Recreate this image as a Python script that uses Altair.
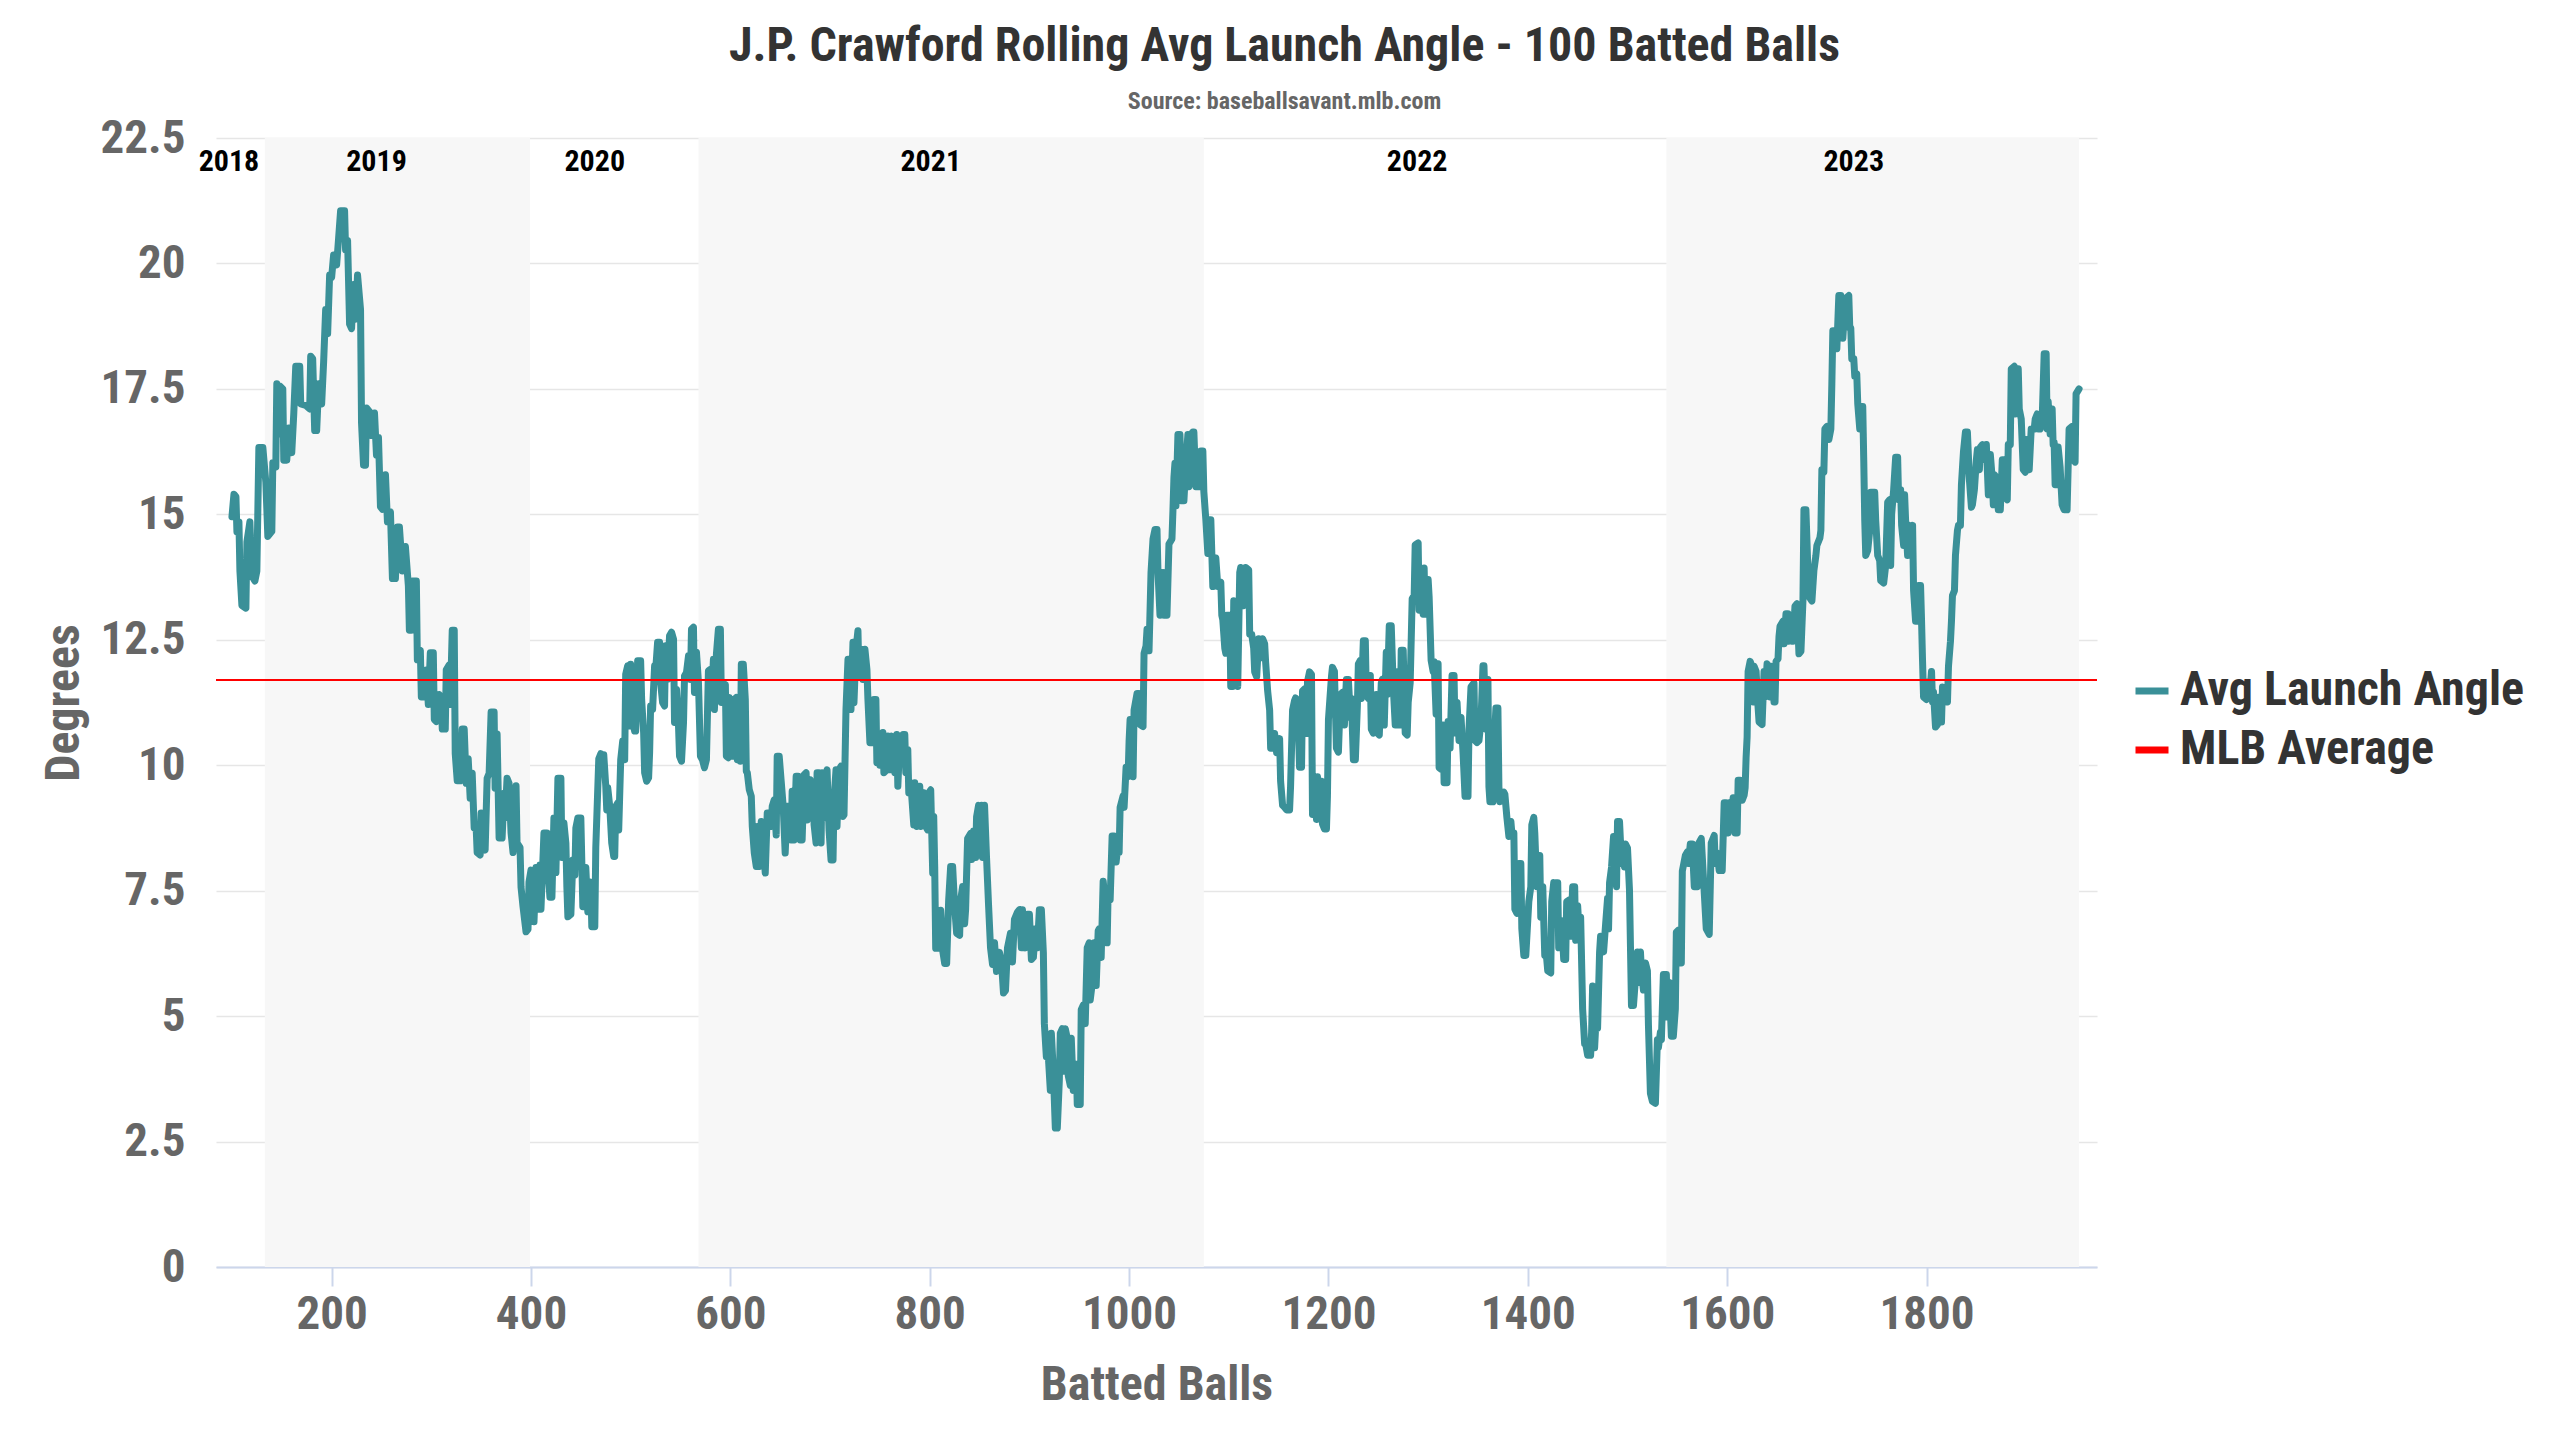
import altair as alt
import pandas as pd

# Batted ball number (x) and 100-ball rolling average launch angle (y)
batted_balls = [
    100, 102, 104, 105, 107, 108, 110, 114, 115, 118,
    120, 123, 125, 127, 131, 134, 136, 140, 141, 144,
    145, 147, 148, 151, 152, 155, 157, 160, 162, 164,
    168, 169, 174, 178, 179, 181, 183, 185, 187, 190,
    192, 194, 196, 198, 200, 202, 205, 207, 209, 213,
    214, 216, 218, 220, 222, 224, 226, 229, 230, 232,
    234, 235, 239, 240, 243, 245, 247, 249, 251, 254,
    256, 259, 261, 264, 266, 268, 271, 274, 277, 278,
    280, 281, 285, 286, 289, 290, 294, 295, 297, 299,
    302, 303, 305, 308, 310, 311, 314, 315, 318, 319,
    321, 323, 324, 326, 329, 331, 333, 335, 337, 339,
    341, 343, 345, 346, 349, 350, 353, 354, 356, 358,
    360, 363, 364, 366, 368, 371, 373, 374, 376, 378,
    380, 382, 385, 386, 389, 390, 392, 395, 397, 398,
    400, 403, 405, 407, 409, 410, 413, 416, 417, 419,
    421, 423, 425, 427, 430, 431, 433, 435, 436, 437,
    440, 442, 444, 445, 447, 450, 452, 454, 455, 457,
    460, 461, 464, 465, 468, 470,
    471, 473, 475, 476, 477, 479, 481, 483, 484, 485,
    487, 488, 490, 492, 494, 495, 497, 499, 500, 502,
    504, 505, 507, 510, 511, 513, 514, 516, 518, 519,
    520, 522, 524, 525, 527, 529, 530, 532, 534, 535,
    537, 539, 541, 543, 544, 546, 548, 549, 551, 553,
    554, 556, 558, 560, 561, 563, 564, 566, 568, 570,
    572, 574, 576, 578, 580, 581, 583, 584, 586, 588,
    590, 591, 593, 595, 596, 598, 599, 601, 602, 604,
    606, 607, 609, 610, 611, 613, 615, 616, 617, 619,
    621, 622, 624, 626, 627, 629, 631, 633, 635, 637,
    639, 641, 642, 644, 646, 647, 649, 651, 653, 655,
    657, 659, 661, 662, 664, 666, 668, 670, 672, 674,
    676, 677, 680, 681, 683, 684, 686, 687, 689, 691,
    692, 694, 696, 697, 699, 701, 703, 704, 706, 707,
    709, 711, 713, 714, 716, 718, 719, 721, 723, 724,
    726, 728, 729, 731, 733, 735, 737, 738, 740, 743,
    744, 746, 747, 748, 750, 753, 754, 757, 758, 760,
    762, 764, 765, 767, 768, 770, 773, 775, 776, 778,
    779, 781, 784, 785, 787, 790, 791, 794, 796, 798,
    800, 801, 803, 804, 805, 806, 809, 811, 813, 815,
    817, 819, 821, 823, 825, 827, 830, 831, 833,
    835, 836, 838, 841, 842, 844, 846, 847, 849, 851,
    852, 853, 855, 857, 858, 859, 861, 863, 865, 867,
    870, 872, 874, 876, 878, 881, 883, 885, 888, 890,
    892, 893, 896, 898, 900, 902, 904, 906, 908, 910,
    912, 914, 915, 917, 919, 921, 922, 924, 926, 928,
    930, 931, 933, 934, 936, 938, 939, 941, 942, 944,
    947, 948, 951, 952, 954, 956, 958, 960, 961, 963,
    965, 967, 969, 970, 972, 974, 976, 978, 979, 981,
    983, 985, 987, 989, 990, 991, 994, 995, 997, 999,
    1000, 1001, 1004, 1005, 1008, 1010, 1011, 1014, 1015, 1017,
    1018, 1020, 1022, 1024, 1026, 1028, 1029, 1031, 1034, 1035,
    1038, 1039, 1040, 1043, 1044, 1045, 1046, 1047, 1049, 1051,
    1053, 1055, 1057, 1059, 1060, 1062, 1064, 1065, 1067, 1069,
    1070, 1072, 1074, 1075, 1077, 1079, 1080, 1082, 1084, 1087,
    1089, 1092, 1093, 1094, 1096, 1097, 1098, 1101, 1102, 1104,
    1105, 1107, 1109, 1111, 1112, 1115, 1117, 1120, 1121, 1123,
    1125, 1126, 1128, 1130, 1132, 1134, 1136, 1137, 1139, 1141,
    1142, 1145, 1146, 1148, 1151, 1152, 1154, 1156, 1158, 1161,
    1162, 1164, 1166, 1167, 1169, 1171, 1173, 1174, 1176, 1178,
    1179, 1181, 1183, 1184, 1186, 1188, 1189, 1191, 1193, 1194,
    1196, 1198, 1199, 1200, 1202, 1203, 1204,
    1206, 1208, 1210, 1212, 1214, 1216, 1218, 1220, 1222, 1223,
    1225, 1227, 1229, 1230, 1232, 1233, 1235, 1237, 1238, 1240,
    1242, 1243, 1245, 1248, 1249, 1251, 1253, 1254, 1256, 1258,
    1259, 1261, 1263, 1265, 1267, 1269, 1270, 1272, 1273, 1275,
    1277, 1279, 1280, 1282, 1284, 1286, 1287, 1290, 1291, 1293,
    1295, 1296, 1297, 1298, 1300, 1301, 1303, 1305, 1306, 1308,
    1310, 1311, 1313, 1315, 1316, 1319, 1320, 1322, 1324, 1326,
    1327, 1329, 1331, 1333, 1335, 1337, 1340, 1341, 1343, 1346,
    1347, 1349, 1351, 1353, 1355, 1356, 1358, 1360, 1361, 1362,
    1365, 1366, 1368, 1370, 1371, 1372, 1374, 1376, 1377, 1379,
    1381, 1383, 1384, 1386, 1387, 1389, 1391, 1393, 1394, 1396,
    1398, 1401, 1403, 1404, 1406, 1407, 1409, 1411, 1412, 1413,
    1415, 1417, 1418, 1420, 1423, 1424, 1426, 1427, 1428, 1430,
    1431, 1433, 1434, 1436, 1438, 1439, 1442, 1443, 1445, 1447,
    1448, 1450, 1452, 1453, 1455, 1457, 1458, 1460, 1463, 1464,
    1465, 1467, 1468, 1470, 1472, 1473, 1476, 1478, 1480, 1481,
    1482, 1484, 1486, 1487, 1489, 1490, 1492, 1494, 1495, 1497,
    1498, 1500, 1502, 1504, 1506, 1508, 1510, 1511, 1513, 1514,
    1516, 1518, 1520, 1521, 1523, 1525, 1528, 1530, 1531, 1533,
    1534, 1536, 1539, 1540, 1542, 1544, 1546, 1548, 1549, 1551,
    1552, 1554, 1555, 1558, 1560, 1561, 1563, 1565, 1567, 1570,
    1571, 1573, 1574,
    1579, 1582, 1584, 1587, 1588, 1590, 1592, 1595, 1597, 1599,
    1601, 1602, 1604, 1606, 1608, 1610, 1611, 1613, 1615, 1617,
    1618, 1619, 1620, 1621, 1623, 1625, 1626, 1627, 1629, 1631,
    1632, 1635, 1637, 1638, 1640, 1642, 1643, 1645, 1647, 1648,
    1649, 1651, 1652, 1653, 1656, 1657, 1659, 1661, 1662, 1665,
    1666, 1668, 1670, 1672, 1674, 1676, 1677, 1679, 1681, 1683,
    1685, 1687, 1689, 1690, 1693, 1694, 1695, 1697, 1698, 1700,
    1702, 1704, 1705, 1706, 1708, 1710, 1712, 1714, 1716, 1718,
    1719, 1722, 1723, 1724, 1725, 1727, 1728, 1730, 1731, 1733,
    1734, 1736, 1737, 1738, 1739, 1741, 1743, 1744, 1748, 1749,
    1751, 1753, 1754, 1757, 1759, 1761, 1763, 1764, 1765, 1767,
    1769, 1771, 1772, 1774, 1775, 1777, 1778, 1779, 1781, 1783,
    1785, 1786, 1787, 1789, 1791, 1792, 1794, 1795, 1796, 1797,
    1800, 1801, 1803, 1805, 1806, 1807, 1809, 1811, 1813, 1815,
    1816, 1819, 1821, 1822, 1824, 1825, 1826, 1828, 1829, 1831,
    1832, 1834, 1835, 1837, 1839, 1841, 1843, 1845, 1846, 1848,
    1850, 1851, 1853, 1854, 1856, 1858, 1860, 1862, 1863, 1864,
    1866, 1867, 1868, 1870, 1872, 1874, 1876, 1878, 1879, 1881,
    1882, 1884, 1885, 1888, 1889, 1890, 1892, 1893, 1895, 1897,
    1899, 1900, 1902, 1903, 1905, 1908, 1909, 1911, 1912, 1914,
    1916, 1918, 1920, 1921, 1922, 1924, 1926, 1927, 1928, 1929,
    1931, 1932, 1934, 1936, 1938, 1941, 1942, 1943, 1946, 1947,
    1949, 1950, 1953,
]
launch_angle = [
    14.95, 15.4, 15.35, 14.65, 14.85, 13.87, 13.18, 13.13, 14.45, 14.85,
    13.77, 13.67, 13.87, 16.33, 16.33, 15.64, 14.56, 14.66, 16.03, 15.94,
    17.6, 16.6, 17.56, 17.5, 16.08, 16.08, 16.72, 16.23, 17.0, 17.95,
    17.95, 17.2, 17.17, 17.1, 18.15, 18.1, 16.67, 16.67, 17.6, 17.2,
    18.05, 19.08, 18.6, 19.77, 19.72, 20.17, 19.97, 20.5, 21.05, 21.05,
    20.27, 20.46, 18.79, 18.7, 19.58, 18.89, 19.77, 19.08, 16.82, 15.98,
    15.98, 17.12, 17.02, 16.57, 17.02, 16.18, 16.53, 15.15, 15.1, 15.79,
    14.85, 15.05, 13.72, 13.72, 14.75, 14.75, 13.87, 14.36, 13.57, 12.69,
    12.69, 13.67, 13.67, 12.1, 12.29, 11.36, 11.36, 11.9, 11.21, 12.24,
    12.24, 10.91, 10.87, 11.41, 11.31, 10.72, 10.72, 11.9, 12.0, 11.21,
    12.69, 12.69, 10.23, 9.69, 9.69, 10.72, 10.72, 9.64, 10.13, 9.34,
    9.84, 8.75, 8.75, 8.26, 8.21, 9.05, 8.36, 8.31, 9.74, 9.84,
    11.06, 11.06, 9.54, 10.62, 8.55, 8.55, 9.44, 8.95, 9.74, 9.64,
    8.65, 8.26, 9.59, 8.45, 8.36, 7.57, 7.18, 6.68, 6.73, 7.67,
    7.91, 6.88, 7.96, 7.13, 8.01, 7.13, 8.65, 8.65, 7.96, 7.37,
    7.37, 8.95, 7.86, 9.74, 9.74, 8.16, 8.85, 8.45, 7.57, 6.98,
    7.03, 8.11, 7.81, 8.75, 8.95, 8.95, 7.18, 7.18, 7.96, 7.08,
    7.67, 6.78, 6.78, 8.36, 10.13, 10.23,
    10.21, 10.21, 9.58, 9.11, 9.55, 9.18, 8.45, 8.18, 8.18, 9.18,
    9.25, 8.71, 10.11, 10.48, 10.11, 11.81, 11.98, 10.78, 12.01, 10.85,
    10.68, 10.68, 12.08, 12.08, 11.31, 10.65, 9.85, 9.68, 9.75, 10.25,
    11.18, 11.11, 11.98, 11.88, 12.45, 12.45, 11.65, 11.25, 11.18, 12.38,
    11.71, 12.58, 12.65, 12.51, 10.85, 11.51, 10.78, 10.18, 10.08, 10.85,
    11.78, 11.85, 12.18, 11.71, 12.71, 12.75, 11.45, 12.25, 11.65, 10.18,
    10.11, 9.95, 10.11, 11.88, 11.91, 11.18, 12.11, 11.11, 12.21, 12.71,
    12.71, 11.25, 11.51, 11.61, 10.18, 10.15, 11.35, 11.18, 10.18, 11.31,
    11.35, 10.11, 10.65, 10.08, 12.01, 12.01, 11.31, 9.88, 9.85, 9.51,
    9.38, 8.78, 8.25, 7.98, 8.78, 7.98, 8.88, 8.51, 7.85, 9.05,
    9.05, 8.78, 9.18, 9.31, 8.61, 10.18, 10.18, 9.68, 9.18, 8.25,
    9.18, 9.18, 8.51, 9.48, 8.51, 9.78, 9.78, 8.51, 8.51, 9.81,
    9.85, 8.91, 9.71, 8.95, 9.65, 8.81, 8.45, 9.85, 9.85, 8.45,
    9.85, 8.95, 9.85, 9.91, 8.71, 8.11, 8.11, 9.31, 9.91, 8.78,
    9.91, 9.98, 8.98, 9.01, 11.11, 12.11, 12.11, 11.11, 12.45, 11.25,
    12.31, 12.68, 11.78, 12.31, 11.71, 12.31, 11.91, 11.31, 10.45, 10.45,
    11.31, 11.31, 10.05, 10.51, 10.0, 10.65, 9.85, 9.91, 10.58, 9.91,
    10.58, 10.51, 9.85, 10.61, 9.58, 10.51, 10.61, 10.61, 9.85, 10.31,
    9.45, 9.65, 8.81, 9.65, 8.78, 9.58, 8.78, 9.45, 8.78, 8.71,
    9.48, 9.51, 7.85, 8.98, 7.98, 6.35, 6.35, 7.11, 6.31, 6.05,
    6.05, 7.31, 7.98, 7.98, 7.18, 6.65, 6.61, 7.31, 7.58,
    6.84, 7.12, 8.54, 8.64, 8.12, 8.69, 8.16, 8.97, 9.2, 8.21,
    9.2, 8.16, 9.2, 8.16, 7.69, 7.22, 6.36, 6.03, 6.46, 5.89,
    6.27, 6.08, 5.46, 5.51, 6.36, 6.65, 6.08, 6.93, 7.07, 7.12,
    6.36, 7.12, 6.36, 7.03, 7.03, 6.13, 6.17, 6.74, 6.36, 7.12,
    7.12, 6.27, 4.85, 4.19, 4.19, 3.52, 4.66, 3.9, 2.77, 2.77,
    3.71, 4.66, 4.75, 3.9, 4.75, 4.56, 3.81, 3.62, 4.56, 3.52,
    4.04, 3.24, 3.24, 5.13, 5.22, 4.85, 6.36, 6.46, 5.32, 5.65,
    6.46, 5.61, 6.7, 6.74, 6.17, 7.69, 7.31, 6.46, 7.5, 7.31,
    8.59, 8.59, 8.07, 8.45, 8.26, 9.16, 9.39, 9.16, 9.96, 9.77,
    10.48, 10.91, 9.77, 11.1, 11.43, 11.43, 10.81, 10.77, 12.23, 12.38,
    12.71, 12.28, 13.84, 14.51, 14.7, 14.7, 13.84, 12.99, 13.84, 12.99,
    12.99, 13.7, 14.41, 14.51, 15.08, 15.74, 16.02, 15.17, 16.59, 16.59,
    15.27, 15.27, 16.02, 16.59, 15.55, 16.59, 16.64, 16.64, 15.55, 16.21,
    15.55, 16.26, 16.26, 15.45, 14.89, 14.22, 14.89, 14.89, 13.56, 14.13,
    13.56, 13.65, 12.99, 12.9, 12.33, 12.23, 12.99, 12.99, 11.57, 11.57,
    13.28, 13.09, 11.57, 13.84, 13.94, 13.18, 13.94, 13.89, 12.61, 12.61,
    12.33, 11.86, 11.76, 12.52, 12.14, 12.52, 12.42, 12.05, 11.48, 11.1,
    10.34, 10.34, 10.63, 10.25, 10.53, 9.68, 9.2, 9.16, 9.11, 9.11,
    9.58, 11.1, 11.29, 11.34, 11.29, 9.96, 9.96, 11.48, 11.52, 10.63,
    11.67, 11.86, 11.81, 9.02, 9.68, 8.92, 9.77, 9.02, 9.68, 8.83,
    8.73, 8.73, 9.39, 10.91, 11.48, 11.76, 11.95,
    11.87, 10.34, 10.26, 11.41, 11.45, 10.8, 11.71, 11.71, 10.95, 11.33,
    10.11, 10.11, 11.18, 12.02, 12.09, 11.33, 12.48, 12.48, 11.41, 11.33,
    11.79, 10.72, 10.64, 11.41, 10.64, 10.6, 11.64, 11.71, 10.8, 12.25,
    11.41, 12.78, 12.78, 11.56, 10.8, 10.8, 11.87, 10.8, 12.29, 12.29,
    10.64, 10.6, 11.25, 11.64, 13.32, 13.39, 14.39, 14.43, 13.09, 13.89,
    13.01, 13.93, 13.01, 13.7, 13.7, 13.36, 12.09, 11.87, 12.06, 11.02,
    12.02, 9.95, 9.92, 10.8, 9.65, 9.65, 10.87, 10.34, 11.79, 11.79,
    10.64, 11.25, 10.49, 10.95, 10.26, 9.38, 9.38, 10.72, 11.56, 11.64,
    10.49, 10.45, 10.49, 10.87, 11.98, 11.98, 10.72, 11.71, 9.57, 9.27,
    9.27, 10.34, 11.14, 11.14, 9.57, 9.27, 9.42, 9.46, 9.42, 8.96,
    8.58, 8.88, 8.65, 8.65, 7.13, 7.05, 8.04, 8.04, 6.74, 6.21,
    6.21, 7.28, 7.58, 8.81, 8.96, 8.65, 7.58, 7.58, 8.2, 6.97,
    7.58, 6.21, 6.36, 5.9, 5.86, 7.28, 7.66, 6.9, 7.66, 7.66,
    6.36, 6.67, 6.9, 6.13, 6.13, 7.28, 7.32, 6.59, 7.58, 7.58,
    6.51, 7.2, 6.51, 6.97, 5.14, 4.45, 4.45, 4.22, 4.22, 4.68,
    5.6, 4.37, 4.76, 4.76, 6.28, 6.59, 6.28, 6.82, 7.35, 6.74,
    7.66, 7.97, 8.58, 8.5, 7.58, 8.88, 8.88, 8.04, 8.27, 7.97,
    8.43, 8.35, 7.51, 5.21, 5.21, 5.75, 6.28, 5.67, 6.28, 5.9,
    5.52, 6.06, 5.9, 4.83, 3.46, 3.3, 3.26, 4.53, 4.37, 4.68,
    4.53, 5.83, 5.83, 4.98, 5.67, 4.6, 4.6, 5.14, 6.67, 6.71,
    6.06, 6.06, 7.89, 8.2, 8.27, 8.04, 8.43, 8.43, 7.58, 7.58,
    8.43, 8.5, 8.54,
    6.74, 6.63, 8.45, 8.6, 8.04, 8.25, 7.9, 7.9, 9.25, 9.25,
    8.65, 9.25, 8.95, 9.35, 8.65, 8.65, 9.7, 9.7, 9.3, 9.4,
    9.55, 10.16, 10.56, 11.87, 12.07, 11.97, 11.26, 11.97, 11.87, 11.16,
    10.86, 10.81, 11.87, 11.36, 12.02, 11.97, 11.36, 11.97, 11.26, 11.26,
    12.07, 12.12, 12.57, 12.77, 12.87, 12.42, 13.02, 13.02, 12.47, 12.67,
    12.47, 13.17, 13.22, 12.22, 12.27, 13.27, 15.09, 15.09, 13.88, 13.33,
    13.27, 13.88, 14.18, 14.38, 14.53, 14.68, 15.89, 15.84, 16.7, 16.75,
    16.49, 16.7, 17.6, 18.66, 18.66, 18.3, 19.36, 19.36, 18.51, 19.11,
    19.31, 19.36, 18.71, 18.71, 18.1, 18.1, 17.75, 17.8, 17.2, 16.7,
    17.15, 17.15, 16.09, 14.88, 14.18, 14.28, 14.68, 15.44, 15.44, 14.88,
    14.18, 14.08, 13.68, 13.63, 13.98, 15.24, 15.29, 13.98, 15.0, 15.49,
    16.14, 16.14, 15.29, 15.49, 14.78, 14.38, 15.39, 14.88, 14.18, 14.78,
    14.68, 14.78, 13.48, 12.87, 12.87, 13.58, 13.58, 12.87, 12.07, 11.36,
    11.31, 11.66, 11.36, 11.87, 11.26, 11.46, 10.76, 10.81, 11.36, 10.86,
    11.56, 11.46, 11.26, 11.97, 12.47, 12.87, 13.38, 13.48, 14.18, 14.68,
    14.78, 14.78, 15.59, 16.24, 16.64, 16.64, 15.69, 15.14, 15.19, 15.49,
    16.09, 16.29, 15.89, 16.34, 16.39, 16.09, 16.39, 15.39, 15.39, 16.19,
    15.69, 15.19, 15.79, 15.74, 15.09, 15.09, 16.09, 16.09, 15.34, 15.29,
    16.39, 16.39, 17.9, 17.95, 17.0, 17.9, 17.9, 17.1, 16.9, 15.89,
    15.84, 16.49, 16.39, 15.89, 16.7, 16.7, 16.9, 17.0, 16.7, 16.7,
    16.9, 18.2, 18.2, 16.7, 17.25, 16.6, 17.1, 16.39, 16.44, 15.59,
    15.59, 16.34, 15.94, 15.19, 15.09, 15.09, 15.89, 16.7, 16.75, 16.09,
    16.04, 17.4, 17.5,
]
if len(batted_balls) != len(launch_angle):
    raise ValueError(f"{len(batted_balls)} balls vs {len(launch_angle)} angles")

mlb_average = 11.7

# Shaded seasons (2019, 2021, 2023) in batted-ball units
band_start = [133, 568, 1539]
band_end = [399, 1075, 1953]

# Season labels along the top of the plot
years = ["2018", "2019", "2020", "2021", "2022", "2023"]
year_label_x = [97, 245, 464, 801, 1289, 1727]

x_ticks = [200, 400, 600, 800, 1000, 1200, 1400, 1600, 1800]
y_ticks = [0, 2.5, 5, 7.5, 10, 12.5, 15, 17.5, 20, 22.5]

FONT = "Roboto Condensed, Liberation Sans Narrow, DejaVu Sans Condensed, Roboto, sans-serif"
TEAL = "#3a9098"
RED = "#ff0000"
GREY = "#666666"

line_df = pd.DataFrame({"balls": batted_balls, "angle": launch_angle})
line_df["series"] = "Avg Launch Angle"
avg_df = pd.DataFrame({"angle": [mlb_average], "series": ["MLB Average"]})
band_df = pd.DataFrame({"start": band_start, "end": band_end})
year_df = pd.DataFrame({"year": years, "balls": year_label_x})

x_scale = alt.Scale(domain=[84, 1971], nice=False, zero=False)
y_scale = alt.Scale(domain=[0, 22.5], nice=False)
color_scale = alt.Scale(domain=["Avg Launch Angle", "MLB Average"], range=[TEAL, RED])

x_axis = alt.Axis(title="Batted Balls", values=x_ticks, format="d")
y_axis = alt.Axis(title="Degrees", values=y_ticks, format=".1~f")

legend = alt.Legend(
    title=None, orient="none", legendX=1912, legendY=529,
    symbolType="stroke", symbolSize=1089, symbolStrokeWidth=7,
    labelFont=FONT, labelFontSize=48, labelFontWeight="bold", labelColor="#333333",
    labelOffset=4, labelLimit=0, rowPadding=11, padding=0,
)

# Season background bands
bands = alt.Chart(band_df).mark_rect(color="#f7f7f7").encode(
    x=alt.X("start:Q", scale=x_scale, axis=x_axis),
    x2="end:Q",
)

# Rolling average line
line = alt.Chart(line_df).mark_line(strokeWidth=7, strokeJoin="round", strokeCap="round").encode(
    x=alt.X("balls:Q", scale=x_scale, axis=x_axis),
    y=alt.Y("angle:Q", scale=y_scale, axis=y_axis),
    color=alt.Color("series:N", scale=color_scale, legend=legend),
)

# League average reference line
avg = alt.Chart(avg_df).mark_rule(strokeWidth=2).encode(
    y=alt.Y("angle:Q", scale=y_scale, axis=y_axis),
    color=alt.Color("series:N", scale=color_scale, legend=legend),
)

# Year labels
labels = alt.Chart(year_df).mark_text(
    font=FONT, fontSize=30, fontWeight="bold", color="#000000", baseline="middle"
).encode(
    x=alt.X("balls:Q", scale=x_scale, axis=x_axis),
    y=alt.value(24),
    text="year:N",
)

chart = alt.layer(bands, line, avg, labels).properties(
    width=1881,
    height=1129,
    autosize=alt.AutoSizeParams(type="none"),
    padding={"left": 208, "top": 130, "right": 452, "bottom": 150},
    title=alt.TitleParams(
        text="J.P. Crawford Rolling Avg Launch Angle - 100 Batted Balls",
        subtitle="Source: baseballsavant.mlb.com",
        font=FONT, fontSize=48, fontWeight="bold", color="#333333",
        subtitleFont=FONT, subtitleFontSize=24, subtitleFontWeight="bold",
        subtitleColor=GREY, subtitlePadding=19,
        anchor="middle", frame="group", dx=128, offset=0,
    ),
).configure_view(
    stroke=None
).configure_axis(
    labelFont=FONT, labelFontWeight="bold", labelColor=GREY, labelFontSize=47,
    titleFont=FONT, titleFontWeight="bold", titleColor=GREY, titleFontSize=48,
).configure_axisX(
    grid=False, domainColor="#ccd6eb", domainWidth=2,
    tickColor="#ccd6eb", tickWidth=2, tickSize=19,
    labelPadding=5, titlePadding=24,
).configure_axisY(
    grid=True, gridColor="#e6e6e6", gridWidth=1.5,
    domain=False, ticks=False, labelPadding=31, titlePadding=12,
)

chart.save("out.html", embed_options={"renderer": "svg", "actions": False})
